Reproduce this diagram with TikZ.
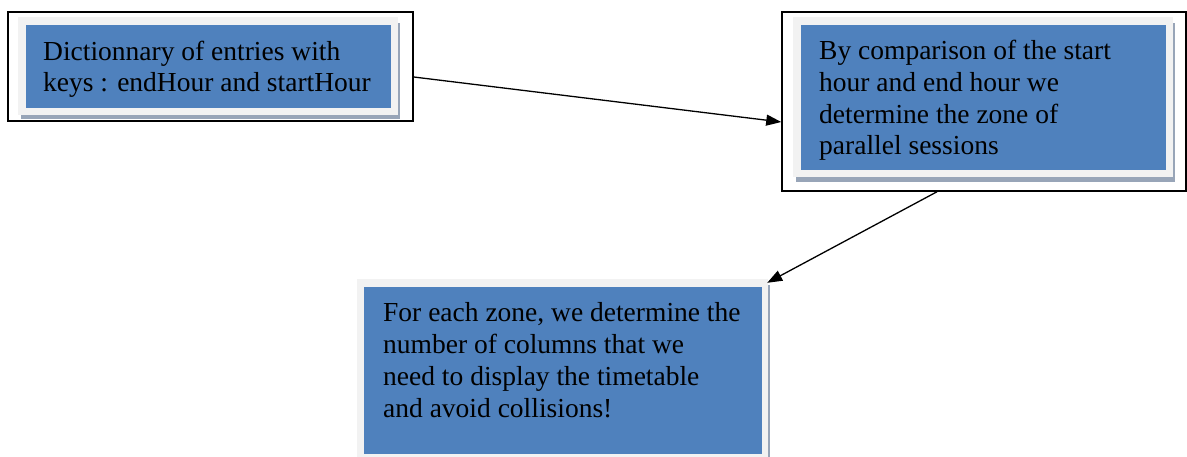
\documentclass[tikz,border=0pt]{standalone}
\usepackage{fontspec}
\setmainfont{Liberation Serif}
\usetikzlibrary{arrows.meta}
\definecolor{boxblue}{HTML}{4F81BD}
\definecolor{boxgrey}{HTML}{F2F2F2}
\definecolor{boxshadow}{HTML}{98A5B8}
\begin{document}
\begin{tikzpicture}[x=1pt,y=-1pt,
	frame/.style={draw=black,line width=1.5pt,fill=white,inner sep=0pt},
	shadowbox/.style={fill=boxshadow,inner sep=0pt},
	greybox/.style={fill=boxgrey,inner sep=0pt},
	bluebox/.style={fill=boxblue,inner sep=0pt},
	label/.style={anchor=base west,align=left,inner sep=0pt,font=\fontsize{27.5}{31.7}\selectfont},
	link/.style={line width=1.3pt,-{Triangle[length=15pt,width=11pt]}}]
	\useasboundingbox (0,0) rectangle (1187,457);
	% first box
	\node [frame,minimum width=405pt,minimum height=109pt] (frameA) at (210.5,66.5) {};
	\node [shadowbox,minimum width=379pt,minimum height=96pt] (shadowA) at (210.5,71) {};
	\node [greybox,minimum width=380pt,minimum height=98pt] (greyA) at (208,66) {};
	\node [bluebox,minimum width=365pt,minimum height=83pt] (blueA) at (208.5,66.5) {};
	\node [label] (textA) at (43,92) {Dictionnary of entries with\\keys : endHour and startHour};
	% second box
	\node [frame,minimum width=404pt,minimum height=179pt] (frameB) at (984,101.5) {};
	\node [shadowbox,minimum width=379pt,minimum height=159pt] (shadowB) at (985.5,102.5) {};
	\node [greybox,minimum width=380pt,minimum height=160pt] (greyB) at (983,97) {};
	\node [bluebox,minimum width=365pt,minimum height=145pt] (blueB) at (983.5,97.5) {};
	\node [label] (textB) at (819,155) {By comparison of the start\\hour and end hour we\\determine the zone of\\parallel sessions};
	% third box
	\node [shadowbox,minimum width=408pt,minimum height=172pt] (shadowC) at (566,371) {};
	\node [greybox,minimum width=411pt,minimum height=178pt] (greyC) at (562.5,368) {};
	\node [bluebox,minimum width=398pt,minimum height=167pt] (blueC) at (563,370.5) {};
	\node [label] (textC) at (383,417) {For each zone, we determine the\\number of columns that we\\need to display the timetable\\and avoid collisions!};
	% arrows
	\draw [link] ([yshift=-10.5pt]frameA.east) -- ([yshift=-20.5pt]frameB.west);
	\draw [link] ([xshift=-47pt]frameB.south) -- ([xshift=-1pt,yshift=-4pt]greyC.north east);
\end{tikzpicture}
\end{document}
